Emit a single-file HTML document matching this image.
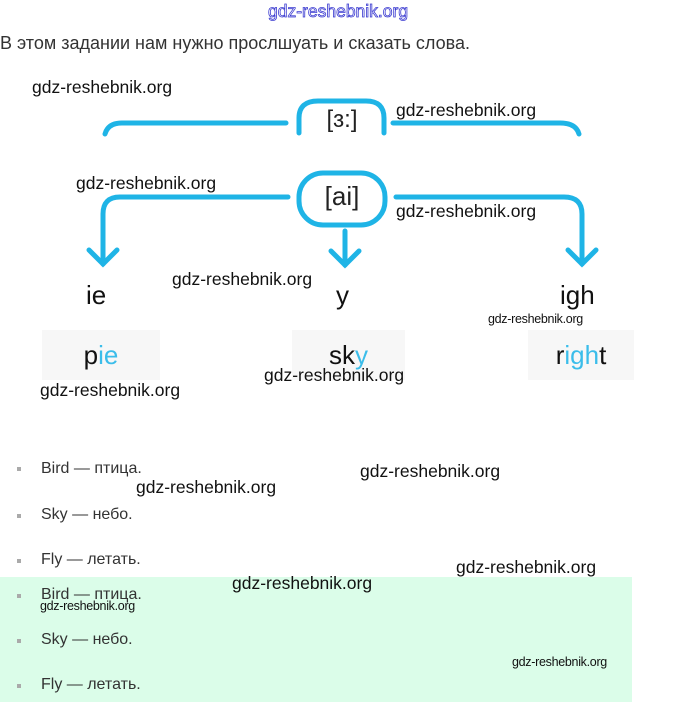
<!DOCTYPE html>
<html><head><meta charset="utf-8"><style>
body{margin:0;width:680px;height:702px;background:#fff;position:relative;overflow:hidden;font-family:"Liberation Sans","DejaVu Sans",sans-serif}
.a{position:absolute;white-space:nowrap}
.w{position:absolute;white-space:nowrap;font-size:17.5px;color:#111;line-height:1}
.ws{position:absolute;white-space:nowrap;font-size:12.5px;color:#111;line-height:1;letter-spacing:-0.3px}
.li{position:absolute;left:41px;font-size:16px;color:#333;line-height:1}
.b{position:absolute;left:17px;width:4px;height:4px;background:#aaa}
.box{position:absolute;background:#f7f7f7;height:50px;top:330px;font-size:26px;text-align:center;line-height:50px;color:#111}
.c{color:#3bbdea}
</style></head><body>
<div class="a" style="left:268px;top:3px;font-size:17.5px;color:#fff;-webkit-text-stroke:0.8px #3a3ad0;line-height:1">gdz-reshebnik.org</div>
<div class="a" style="left:0;top:34px;font-size:18px;color:#333;line-height:1">В этом задании нам нужно прослшуать и сказать слова.</div>
<div style="position:absolute;left:0;top:577px;width:632px;height:125px;background:#dbfde9"></div>
<svg width="680" height="702" style="position:absolute;left:0;top:0" fill="none" stroke="#1fb4e6" stroke-width="5" stroke-linecap="round">
<path d="M105 134 Q108 123 122 123 L286 123"/>
<path d="M299 133 L299 118 Q299 101 318 101 L366 101 Q384 101 384 118 L384 133"/>
<path d="M393 123 L560 123 Q576 123 579 134"/>
<rect x="299" y="173" width="86" height="52" rx="24"/>
<path d="M288 197 L120 197 Q103 197 103 214 L103 264"/>
<path d="M89 250 L103 264 L117 250"/>
<path d="M345 231 L345 265"/><path d="M331 251 L345 265 L359 251"/>
<path d="M396 197 L564 197 Q582 197 582 214 L582 264"/>
<path d="M568 250 L582 264 L596 250"/>
</svg>
<div class="a" style="left:300px;top:108px;width:84px;text-align:center;font-size:24px;color:#222;line-height:1;height:24px;overflow:hidden">[ɜ:]</div>
<div class="a" style="left:300px;top:183px;width:84px;text-align:center;font-size:26px;color:#222;line-height:1">[ai]</div>
<div class="a" style="left:86px;top:282px;font-size:26px;color:#111;line-height:1">ie</div>
<div class="a" style="left:336px;top:282px;font-size:26px;color:#111;line-height:1">y</div>
<div class="a" style="left:560px;top:282px;font-size:26px;color:#111;line-height:1">igh</div>
<div class="box" style="left:42px;width:118px">p<span class="c">ie</span></div>
<div class="box" style="left:292px;width:113px">sk<span class="c">y</span></div>
<div class="box" style="left:528px;width:106px">r<span class="c">igh</span>t</div>
<div class="b" style="top:467px"></div><div class="li" style="top:461px">Bird — птица.</div>
<div class="b" style="top:514px"></div><div class="li" style="top:507px">Sky — небо.</div>
<div class="b" style="top:559px"></div><div class="li" style="top:552px">Fly — летать.</div>
<div class="b" style="top:594px"></div><div class="li" style="top:587px">Bird — птица.</div>
<div class="b" style="top:639px"></div><div class="li" style="top:632px">Sky — небо.</div>
<div class="b" style="top:684px"></div><div class="li" style="top:677px">Fly — летать.</div>
<div class="w" style="left:32px;top:79px">gdz-reshebnik.org</div>
<div class="w" style="left:396px;top:102px">gdz-reshebnik.org</div>
<div class="w" style="left:76px;top:175px">gdz-reshebnik.org</div>
<div class="w" style="left:396px;top:203px">gdz-reshebnik.org</div>
<div class="w" style="left:172px;top:271px">gdz-reshebnik.org</div>
<div class="ws" style="left:488px;top:313px">gdz-reshebnik.org</div>
<div class="w" style="left:264px;top:367px">gdz-reshebnik.org</div>
<div class="w" style="left:40px;top:382px">gdz-reshebnik.org</div>
<div class="w" style="left:360px;top:463px">gdz-reshebnik.org</div>
<div class="w" style="left:136px;top:479px">gdz-reshebnik.org</div>
<div class="w" style="left:456px;top:559px">gdz-reshebnik.org</div>
<div class="w" style="left:232px;top:575px">gdz-reshebnik.org</div>
<div class="ws" style="left:40px;top:600px">gdz-reshebnik.org</div>
<div class="ws" style="left:512px;top:656px">gdz-reshebnik.org</div>
</body></html>
